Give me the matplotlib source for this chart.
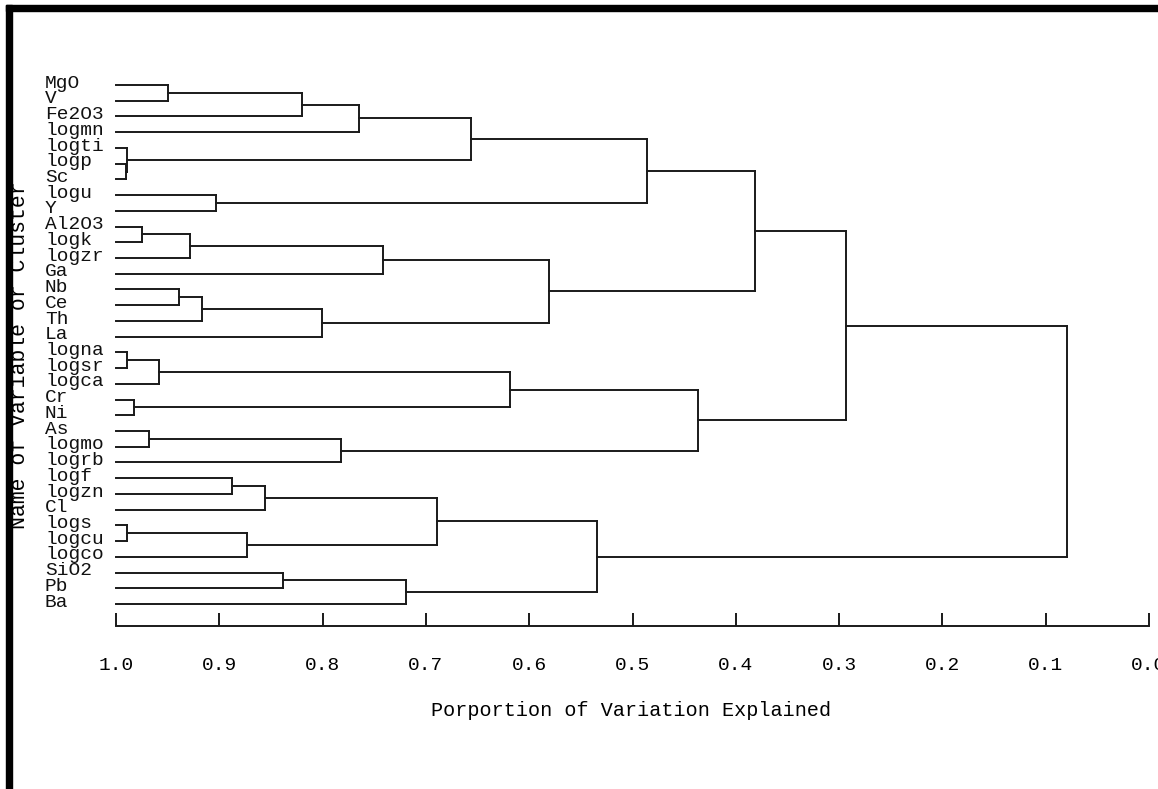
import numpy as np
import matplotlib.pyplot as plt
from matplotlib.patches import Rectangle
from matplotlib.transforms import blended_transform_factory

# variables in dendrogram order, top to bottom
leaves = ["MgO", "V", "Fe2O3", "logmn", "logti", "logp", "Sc", "logu", "Y",
          "Al2O3", "logk", "logzr", "Ga", "Nb", "Ce", "Th", "La",
          "logna", "logsr", "logca", "Cr", "Ni", "As", "logmo", "logrb",
          "logf", "logzn", "Cl", "logs", "logcu", "logco", "SiO2", "Pb", "Ba"]

# cluster joins: (left, right, proportion explained); joins are named C1, C2, ...
merges = [
    ("MgO", "V", 0.950),      # C1
    ("C1", "Fe2O3", 0.820),   # C2
    ("C2", "logmn", 0.765),   # C3
    ("logp", "Sc", 0.990),    # C4
    ("logti", "C4", 0.989),   # C5
    ("C3", "C5", 0.656),      # C6
    ("logu", "Y", 0.903),     # C7
    ("C6", "C7", 0.486),      # C8
    ("Al2O3", "logk", 0.975), # C9
    ("C9", "logzr", 0.928),   # C10
    ("C10", "Ga", 0.742),     # C11
    ("Nb", "Ce", 0.939),      # C12
    ("C12", "Th", 0.917),     # C13
    ("C13", "La", 0.801),     # C14
    ("C11", "C14", 0.581),    # C15
    ("C8", "C15", 0.381),     # C16
    ("logna", "logsr", 0.989),# C17
    ("C17", "logca", 0.958),  # C18
    ("Cr", "Ni", 0.983),      # C19
    ("C18", "C19", 0.619),    # C20
    ("As", "logmo", 0.968),   # C21
    ("C21", "logrb", 0.782),  # C22
    ("C20", "C22", 0.437),    # C23
    ("C16", "C23", 0.293),    # C24
    ("logf", "logzn", 0.888), # C25
    ("C25", "Cl", 0.856),     # C26
    ("logs", "logcu", 0.989), # C27
    ("C27", "logco", 0.873),  # C28
    ("C26", "C28", 0.689),    # C29
    ("SiO2", "Pb", 0.838),    # C30
    ("C30", "Ba", 0.719),     # C31
    ("C29", "C31", 0.534),    # C32
    ("C24", "C32", 0.079),    # C33
]

ticks = np.round(np.arange(0.0, 1.01, 0.1), 1)
tick_labels = [f"{t:.1f}" for t in ticks]

W, H = 1158, 789
fig = plt.figure(figsize=(W / 100, H / 100), dpi=100)
ax = fig.add_axes([116 / W, 1 - 604 / H, (1149 - 116) / W, (604 - 85) / H])
ax.set_xlim(1.0, 0.0)
ax.set_ylim(len(leaves) - 1, 0)

mono = "Liberation Mono"
lc = "#1a1a1a"
lw = 1.4

# each node: (vertical position, height where its line starts)
nodes = {name: (i, 1.0) for i, name in enumerate(leaves)}
for k, (a, b, h) in enumerate(merges, start=1):
    ya, ha = nodes[a]
    yb, hb = nodes[b]
    ax.plot([ha, h], [ya, ya], color=lc, lw=lw, clip_on=False, solid_capstyle="projecting")
    ax.plot([hb, h], [yb, yb], color=lc, lw=lw, clip_on=False, solid_capstyle="projecting")
    ax.plot([h, h], [ya, yb], color=lc, lw=lw, clip_on=False, solid_capstyle="projecting")
    nodes[f"C{k}"] = ((ya + yb) / 2, h)

# leaf names share a left edge
name_tf = blended_transform_factory(fig.transFigure, ax.transData)
for i, name in enumerate(leaves):
    ax.text(45 / W, i - 0.12, name, transform=name_tf, ha="left", va="center",
            family=mono, fontsize=14, color="#111", clip_on=False)

for s in ["top", "right", "left"]:
    ax.spines[s].set_visible(False)
ax.spines["bottom"].set_position(("outward", 16))
ax.spines["bottom"].set_linewidth(lw)
ax.spines["bottom"].set_color(lc)
ax.set_yticks([])
ax.set_xticks(ticks)
ax.set_xticklabels(tick_labels, family=mono, fontsize=14)
ax.tick_params(axis="x", direction="in", length=9.5, width=lw, color=lc, pad=22)

ax.set_xlabel("Porportion of Variation Explained", family=mono, fontsize=14.5)
ax.xaxis.set_label_coords((631 - 116) / 1033, -(710 - 604) / 519)
ax.xaxis.label.set_va("center")
ax.set_ylabel("Name of Variable or Cluster", family=mono, fontsize=15.5)
ax.yaxis.set_label_coords((20 - 116) / 1033, 1 - (355 - 85) / 519)
ax.yaxis.label.set_va("center")

# heavy frame along the top and left edges
fig.patches.append(Rectangle((6 / W, 1 - 11 / H), 1, 6 / H, transform=fig.transFigure,
                             color="black", zorder=10))
fig.patches.append(Rectangle((6 / W, 0), 6 / W, 1 - 5 / H, transform=fig.transFigure,
                             color="black", zorder=10))

fig.savefig("out.png", dpi=100, facecolor="white")
plt.close(fig)
